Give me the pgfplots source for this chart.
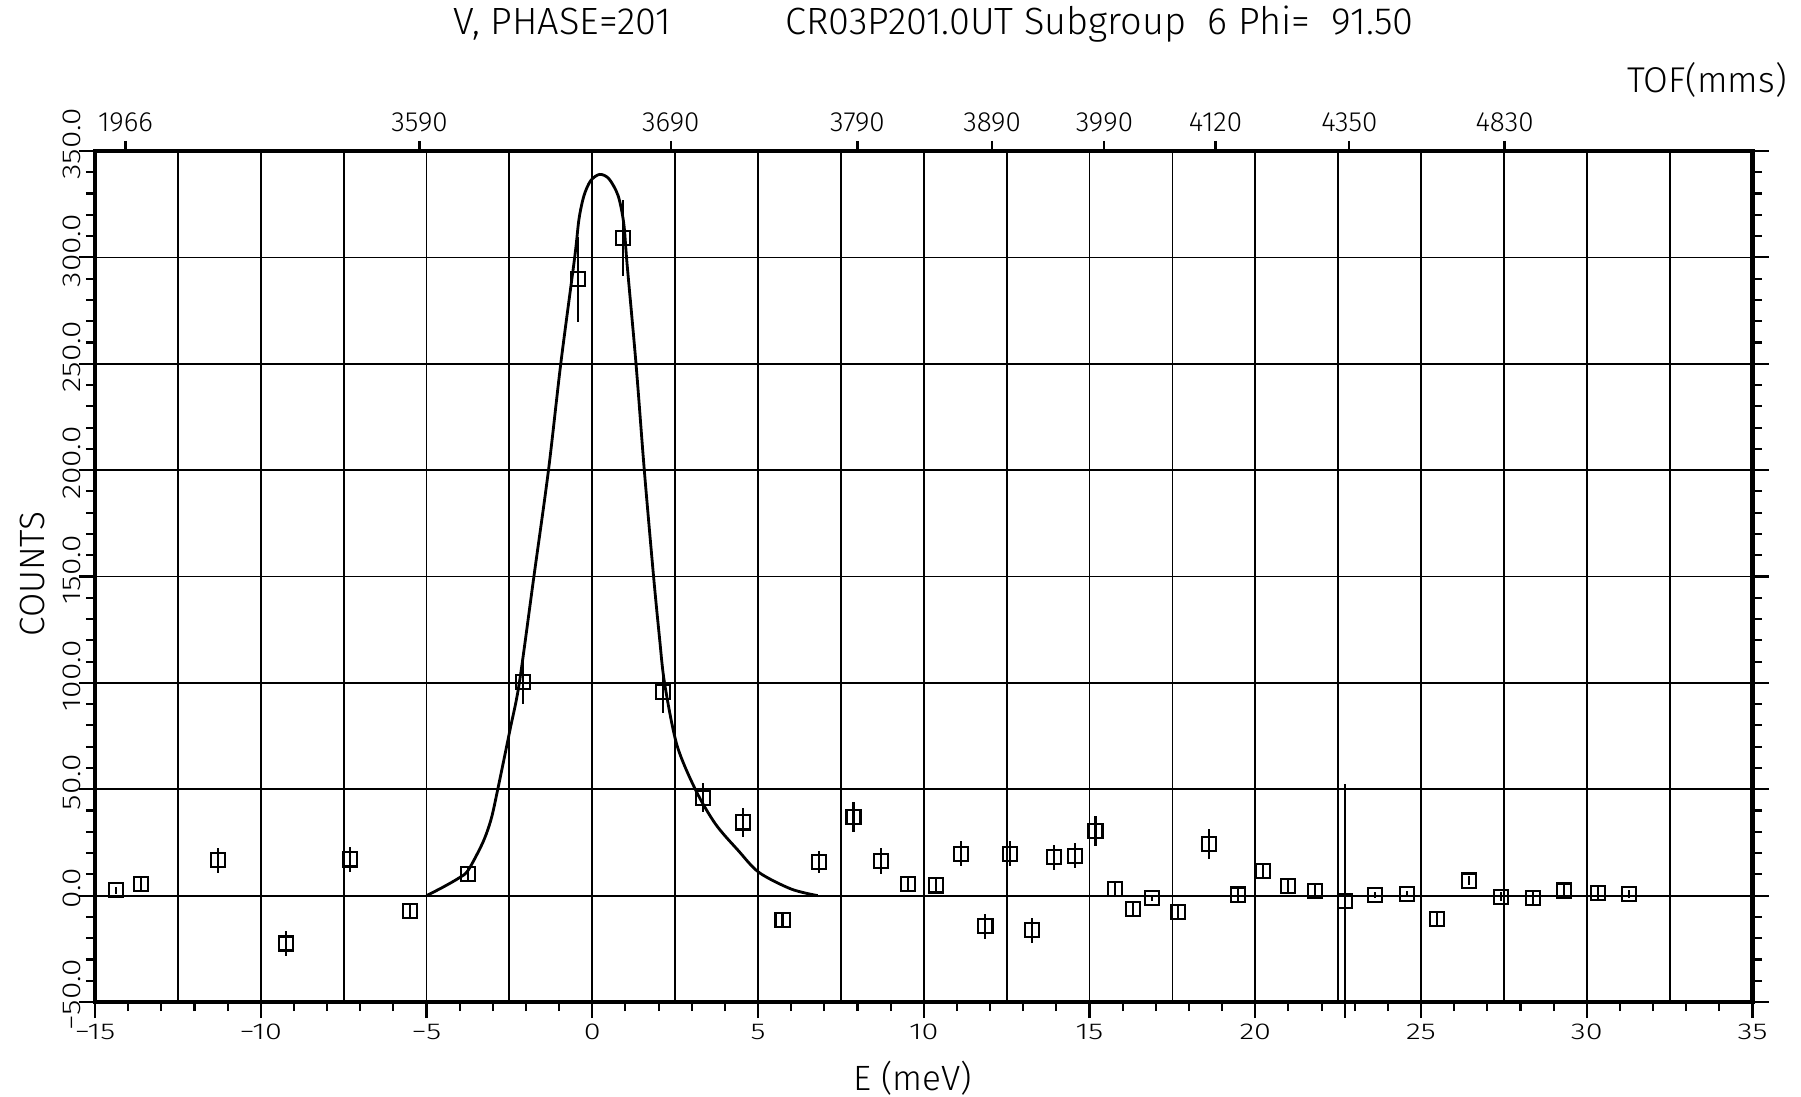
\documentclass[border=0pt]{standalone}
\usepackage{fontspec}
\setmainfont{Fira Sans Light}
\usepackage{pgfplots}
\usepackage{pgfplotstable}
\pgfplotsset{compat=1.18}

% measured points: energy, counts, error
\pgfplotstableread{
x y e
-14.36 2.5 1.5
-13.60 5.6 3
-11.30 16.6 6
-9.24 -22.5 6
-7.32 17.0 6
-5.50 -7.4 3
-3.74 10.3 3
-2.09 100.3 10
-0.44 289.7 20
0.93 309.2 18
2.13 95.8 10
3.35 46.1 7
4.54 34.4 7
5.74 -11.3 3
6.83 15.8 5
7.88 36.9 7
8.72 16.3 6
9.53 5.6 3
10.36 4.8 3
11.13 19.7 6
11.86 -14.4 6
12.59 19.7 6
13.27 -16.3 6
13.93 18.0 6
14.55 18.8 6
15.18 30.2 7
15.77 3.3 3
16.32 -6.1 3
16.88 -1.1 1.5
17.66 -7.8 3
18.61 24.2 7
19.47 0.5 3
20.24 11.4 3
21.00 4.4 3
21.81 2.0 3
22.71 -2.7 55
23.62 0.2 1.5
24.57 0.8 1.5
25.48 -11.0 3
26.44 7.1 2
27.41 -0.5 2
28.37 -1.3 3
29.32 2.4 3
30.33 1.3 3
31.28 0.8 2
}\counts

% fitted curve
\pgfplotstableread{
x y
-5.00 0
-4.50 4
-4.00 8.5
-3.74 12
-3.30 25
-3.05 36
-2.85 50
-2.48 78
-2.20 100
-1.76 150
-1.32 200
-0.95 250
-0.53 300
-0.40 318
-0.25 329
-0.05 336
0.22 339
0.50 337
0.78 329
0.95 316
1.05 297
1.32 250
1.57 200
1.85 150
2.03 121
2.18 100
2.55 71
3.12 49.6
3.72 33.6
4.41 21.1
5.03 10.9
6.00 3.1
6.80 0
}\fitcurve

\begin{document}
\begin{tikzpicture}
\begin{axis}[
    at={(0,0)}, anchor=south west,
    scale only axis, width=165.75mm, height=85.1mm,
    xmin=-15, xmax=35, ymin=-50, ymax=350,
    clip=false,
    xtick={-15,-10,...,35},
    xticklabels={−15,−10,−5,0,5,10,15,20,25,30,35},
    minor x tick num=4,
    ytick={-50,0,...,350},
    yticklabels={−50.0,0.0,50.0,100.0,150.0,200.0,250.0,300.0,350.0},
    minor y tick num=4,
    xtick pos=left, ytick pos=both,
    tick align=outside,
    major tick length=1.6mm, minor tick length=0.9mm,
    tick style={black, line width=0.6pt},
    axis line style={line width=1.2pt},
    grid=major, grid style={black, line width=0.5pt},
    extra x ticks={-12.5,-7.5,...,32.5}, extra x tick labels={},
    extra x tick style={grid=major, major tick length=0pt},
    xticklabel style={font=\fontsize{8.7}{9}\selectfont, yscale=0.75, inner sep=0pt, yshift=-0.7mm},
    yticklabel style={font=\fontsize{9}{10}\selectfont, rotate=90, yscale=0.82, anchor=south, inner sep=0pt, xshift=0.7mm, yshift=-0.3mm},
]
\addplot[black, line width=0.8pt, smooth] table[x=x, y=y] {\fitcurve};
\addplot[black, only marks, mark=square, mark size=2pt, mark options={line width=0.6pt},
    error bars/.cd, y dir=both, y explicit,
    error bar style={line width=0.6pt}, error mark=none]
    table[x=x, y=y, y error=e] {\counts};
\end{axis}
% time-of-flight scale along the top
\begin{axis}[
    at={(0,0)}, anchor=south west,
    scale only axis, width=165.75mm, height=85.1mm,
    xmin=-15, xmax=35, ymin=-50, ymax=350,
    axis line style={draw=none},
    ytick=\empty,
    xtick pos=right, xticklabel pos=right,
    xtick={-14.08,-5.21,2.37,8.0,12.06,15.45,18.8,22.84,27.52},
    xticklabels={1966,3590,3690,3790,3890,3990,4120,4350,4830},
    tick align=outside, major tick length=1mm,
    tick style={black, line width=0.6pt},
    xticklabel style={font=\fontsize{7.9}{9}\selectfont, inner sep=0pt, yshift=0.8mm},
]
\end{axis}
\node[anchor=base west, font=\fontsize{10.8}{12}\selectfont] at (34.6mm,96.7mm) {V, PHASE=201};
\node[anchor=base west, font=\fontsize{10.8}{12}\selectfont] at (67.8mm,96.7mm) {CR03P201.0UT Subgroup\ \ 6 Phi=\ \ 91.50};
\node[anchor=base east, font=\fontsize{10.2}{11}\selectfont] at (170.4mm,90.9mm) {TOF(mms)};
\node[anchor=base, font=\fontsize{10}{11}\selectfont] at (81.8mm,-8.8mm) {E (meV)};
\node[anchor=base, rotate=90, font=\fontsize{10}{11}\selectfont] at (-5.0mm,42.8mm) {COUNTS};
\pgfresetboundingbox
\path (-9.5mm,-9.4mm) rectangle (170.6mm,100.2mm);
\end{tikzpicture}
\end{document}
